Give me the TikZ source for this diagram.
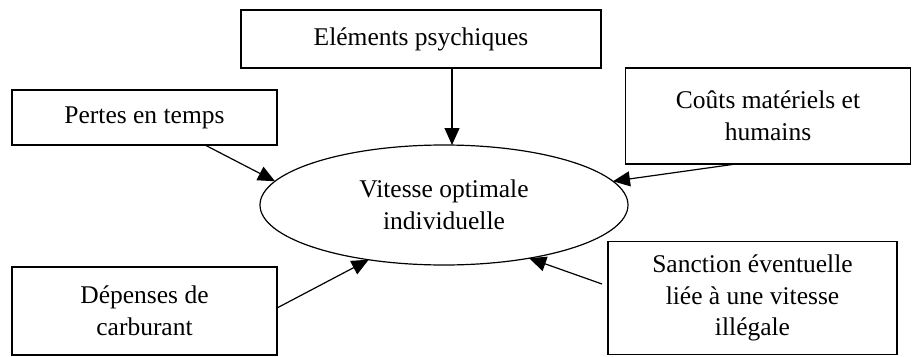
\documentclass[tikz,border=0pt]{standalone}
\usepackage{fontspec}
\setmainfont{Liberation Serif}
\usetikzlibrary{arrows.meta,shapes.geometric}
\begin{document}
\begin{tikzpicture}[x=1pt,y=-1pt,
  box/.style={draw,line width=1.2pt,inner sep=0pt,outer sep=0pt,align=center,
    font=\fontsize{25.5}{31.5}\selectfont},
  oval/.style={draw,ellipse,line width=1.2pt,inner sep=0pt,outer sep=0pt,align=center,
    font=\fontsize{25.5}{31.5}\selectfont},
  arr/.style={line width=1.2pt,-{Triangle[length=17pt,width=15pt]}}]
\useasboundingbox (0,0) rectangle (912,356);
\node[oval,minimum width=368pt,minimum height=120pt] (ell) at (444,205) {Vitesse optimale\\individuelle};
\node[box,minimum width=360pt,minimum height=58pt] (elem) at (421,39) {Eléments psychiques};
\node[box,minimum width=265pt,minimum height=55pt] (pertes) at (144.5,117.5) {Pertes en temps};
\node[box,minimum width=285pt,minimum height=96pt] (couts) at (768,116) {Coûts matériels et\\humains};
\node[box,minimum width=265pt,minimum height=88pt] (dep) at (144.5,311) {Dépenses de\\carburant};
\node[box,minimum width=289pt,minimum height=113pt] (sanc) at (752.5,298) {\rule{0pt}{14pt}Sanction éventuelle\\liée à une vitesse\\illégale};
\coordinate (eS) at ([xshift=31pt]elem.south);
\coordinate (pS) at ([xshift=60.5pt]pertes.south);
\coordinate (cS) at ([xshift=-32pt]couts.south);
\coordinate (dS) at ([yshift=3pt]dep.east);
\coordinate (sS) at ([xshift=-6pt,yshift=14pt]sanc.west);
\draw[arr] (eS) -- (eS |- ell.north);
\draw[arr] (pS) -- (ell.172);
\draw[arr] (cS) -- (ell.8);
\draw[arr] (dS) -- (ell.216);
\draw[arr] (sS) -- (ell.-32);
\end{tikzpicture}
\end{document}
